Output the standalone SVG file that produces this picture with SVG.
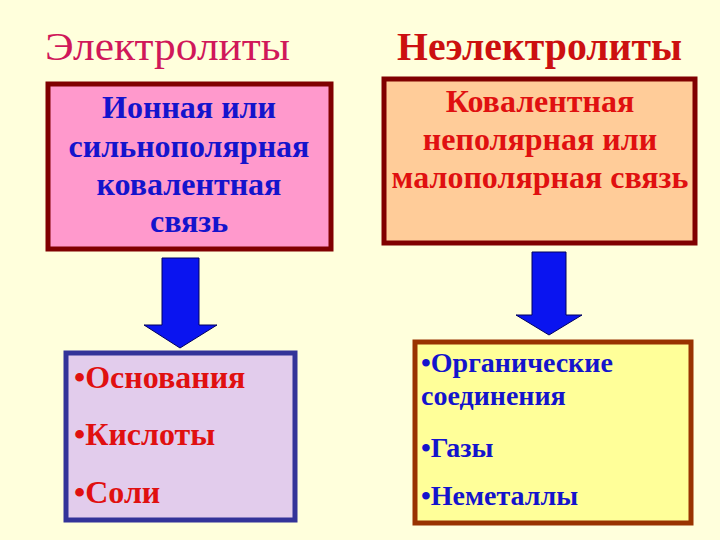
<svg xmlns="http://www.w3.org/2000/svg" width="720" height="540" viewBox="0 0 720 540">
<style>
text{font-family:"Liberation Serif","Times New Roman",serif;}
.title{font-size:40px;}
.t{font-size:32px;font-weight:bold;}
.s{font-size:28px;font-weight:bold;}
.blue{fill:#1414CC;}
.red{fill:#E01010;}
.c{text-anchor:middle;}
.arrow{fill:#0A14F0;stroke:#000060;stroke-width:1;}
</style>
<rect width="720" height="540" fill="#FFFFDC"/>
<g id="title-left"><text class="title" x="45" y="60" fill="#D0185A" textLength="245" lengthAdjust="spacingAndGlyphs">Электролиты</text></g>
<g id="title-right"><text class="title" x="397" y="60" fill="#CC1010" font-weight="bold" textLength="285" lengthAdjust="spacingAndGlyphs">Неэлектролиты</text></g>
<g id="box-ionic">
<rect x="48" y="84" width="283" height="165" fill="#FF99CC" stroke="#800000" stroke-width="5"/>
<text class="t blue c" x="189" y="118">Ионная или</text>
<text class="t blue c" x="189" y="157">сильнополярная</text>
<text class="t blue c" x="189" y="195">ковалентная</text>
<text class="t blue c" x="189" y="232">связь</text>
</g>
<g id="box-covalent">
<rect x="384" y="79" width="311" height="164" fill="#FFCC99" stroke="#800000" stroke-width="5"/>
<text class="t red c" x="540" y="112">Ковалентная</text>
<text class="t red c" x="540" y="150">неполярная или</text>
<text class="t red c" x="540" y="188">малополярная связь</text>
</g>
<g id="connectors">
<polygon class="arrow" points="162,258 199,258 199,325 217,325 180,348 144,325 162,325"/>
<polygon class="arrow" points="532,252 566,252 566,315 582,315 549,335 516,315 532,315"/>
</g>
<g id="box-electrolytes">
<rect x="66" y="353" width="229" height="167" fill="#E2CCEC" stroke="#333399" stroke-width="5"/>
<text class="t red" x="74" y="388">•Основания</text>
<text class="t red" x="74" y="445">•Кислоты</text>
<text class="t red" x="74" y="503">•Соли</text>
</g>
<g id="box-nonelectrolytes">
<rect x="415" y="342" width="276" height="181" fill="#FFFF99" stroke="#993300" stroke-width="5"/>
<text class="s blue" x="421" y="372">•Органические</text>
<text class="s blue" x="421" y="405">соединения</text>
<text class="s blue" x="421" y="457">•Газы</text>
<text class="s blue" x="421" y="505">•Неметаллы</text>
</g>
</svg>
